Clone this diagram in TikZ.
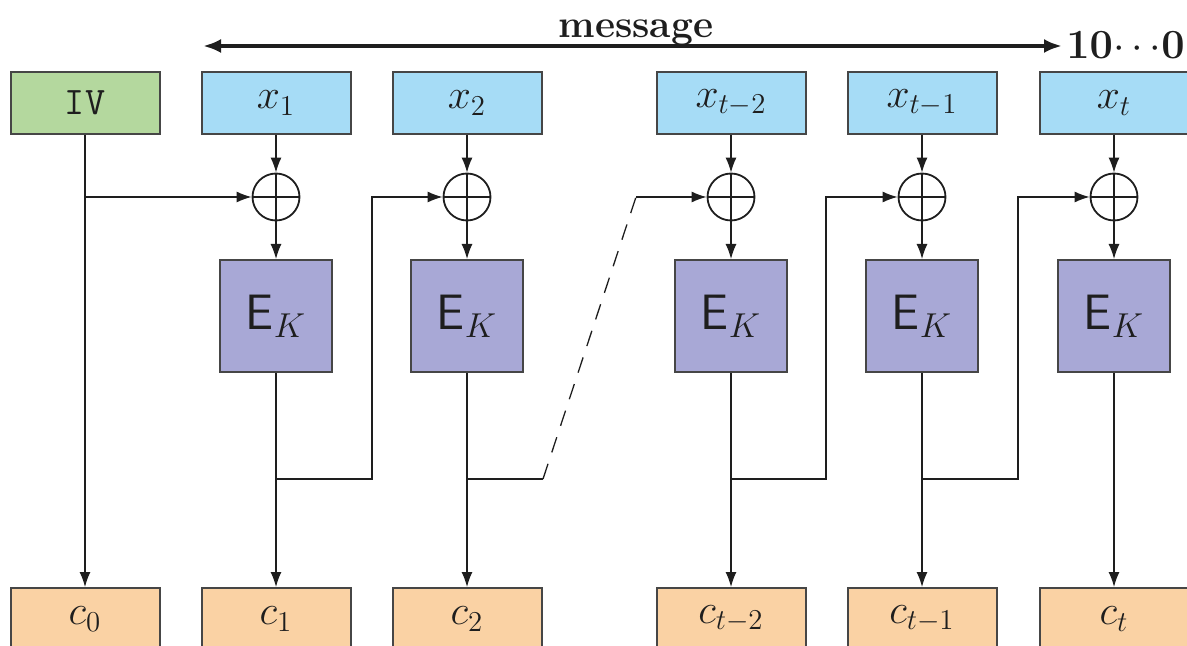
\documentclass[tikz,border=0pt]{standalone}
\usetikzlibrary{arrows.meta}
\definecolor{ivgreen}{RGB}{180,216,158}
\definecolor{msgblue}{RGB}{166,220,246}
\definecolor{encpurple}{RGB}{168,168,214}
\definecolor{ctorange}{RGB}{250,210,164}
\definecolor{edge}{RGB}{70,70,70}
\definecolor{ink}{RGB}{30,30,30}
\begin{document}
\begin{tikzpicture}[x=0.5pt,y=-0.5pt,
  every node/.style={text=ink},
  bigfont/.style={font=\fontsize{19.5}{22}\selectfont},
  encfont/.style={font=\fontsize{23}{26}\selectfont},
  blk/.style={draw=edge,line width=1pt,minimum width=74.5pt,minimum height=31pt,inner sep=0pt,bigfont},
  ivbox/.style={blk,fill=ivgreen},
  inbox/.style={blk,fill=msgblue},
  outbox/.style={blk,fill=ctorange},
  encbox/.style={draw=edge,line width=1pt,fill=encpurple,minimum width=56pt,minimum height=56pt,inner sep=0pt,encfont},
  xorop/.style={circle,draw=ink,line width=0.9pt,minimum size=23.5pt,inner sep=0pt,
    path picture={\draw[line width=0.9pt,ink] (path picture bounding box.north) -- (path picture bounding box.south)
      (path picture bounding box.west) -- (path picture bounding box.east);}},
  wire/.style={draw=ink,line width=0.65pt},
  flow/.style={wire,-{Latex[length=7.5pt,width=5.5pt]}},
  span/.style={draw=ink,line width=2pt,{Latex[length=9pt,width=7pt]}-{Latex[length=9pt,width=7pt]}}
]
\useasboundingbox (0,0) rectangle (1187,646);

% message span
\coordinate (mL) at (203,46);
\coordinate (mR) at (1062,46);
\draw[span] (mL) -- (mR);
\node[bigfont,anchor=base] (msg) at (636,38) {\bfseries message};
\node[bigfont,anchor=base west,inner sep=0pt] (pad) at (1066,59) {$\mathbf{10{\cdots}0}$};

% inputs
\node[ivbox] (iv) at (85,103) {\texttt{IV}};
\node[inbox] (x1) at (276,103) {$x_1$};
\node[inbox] (x2) at (467,103) {$x_2$};
\node[inbox] (x3) at (731,103) {$x_{t-2}$};
\node[inbox] (x4) at (922,103) {$x_{t-1}$};
\node[inbox] (x5) at (1114,103) {$x_t$};

% xor gates and cipher blocks
\foreach \i/\cx in {1/276,2/467,3/731,4/922,5/1114}{
  \node[xorop] (o\i) at (\cx,197) {};
  \node[encbox] (e\i) at (\cx,316) {$\mathsf{E}_K$};
}

% outputs
\node[outbox] (c0) at (85,619) {$c_0$};
\node[outbox] (c1) at (276,619) {$c_1$};
\node[outbox] (c2) at (467,619) {$c_2$};
\node[outbox] (c3) at (731,619) {$c_{t-2}$};
\node[outbox] (c4) at (922,619) {$c_{t-1}$};
\node[outbox] (c5) at (1114,619) {$c_t$};

% vertical data path
\draw[flow] (iv) -- (c0);
\draw[flow] (iv.south |- o1) -- (o1);
\foreach \i in {1,...,5}{
  \draw[flow] (x\i) -- (o\i);
  \draw[flow] (o\i) -- (e\i);
  \draw[flow] (e\i) -- (c\i);
}

% chaining
\coordinate (j1) at (372,479);
\coordinate (j3) at (826,479);
\coordinate (j4) at (1018,479);
\draw[flow] (c1.north |- j1) -- (j1) -- (j1 |- o2) -- (o2);
\draw[flow] (c3.north |- j3) -- (j3) -- (j3 |- o4) -- (o4);
\draw[flow] (c4.north |- j4) -- (j4) -- (j4 |- o5) -- (o5);

\coordinate (d0) at (543,479);
\coordinate (d1) at (636,197);
\draw[wire] (c2.north |- d0) -- (d0);
\draw[wire,dash pattern=on 8pt off 6pt] (d0) -- (d1);
\draw[flow] (d1) -- (o3);
\end{tikzpicture}
\end{document}
